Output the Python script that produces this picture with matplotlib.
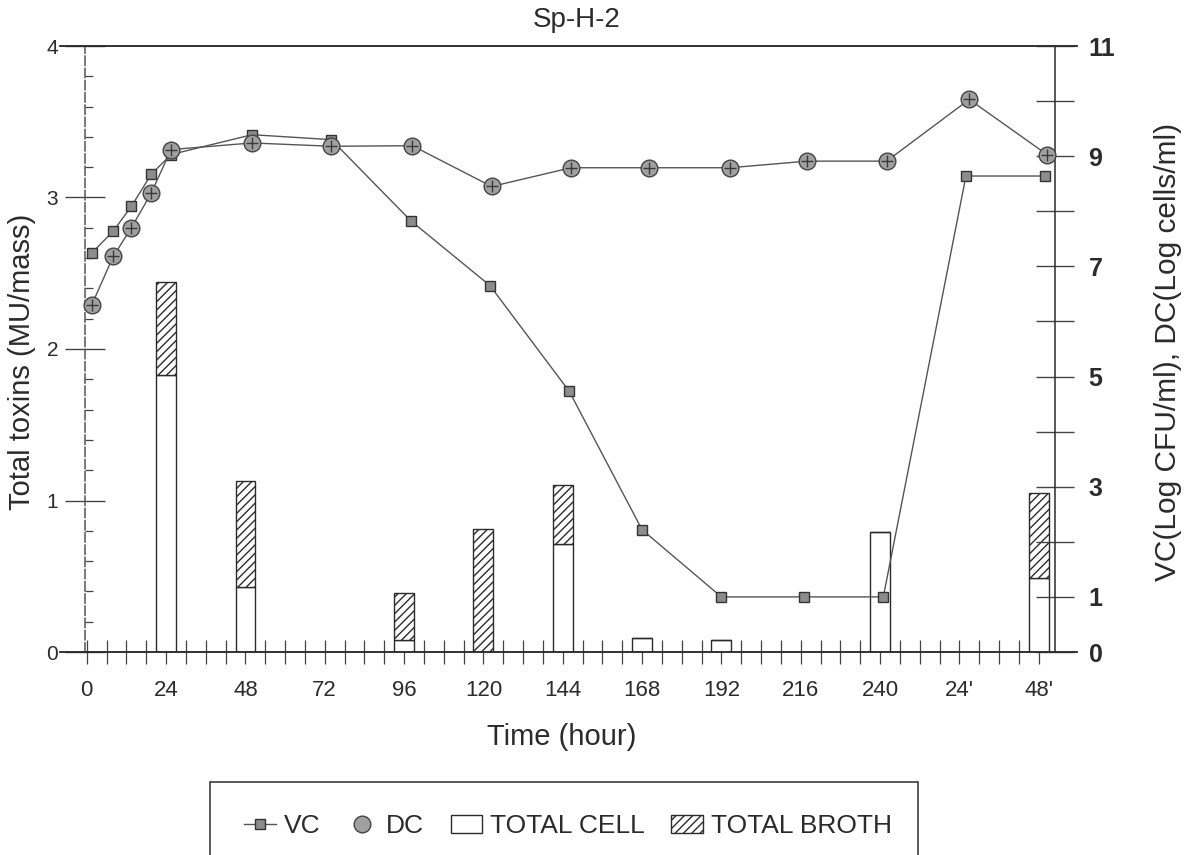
import matplotlib.pyplot as plt
from matplotlib.lines import Line2D
from matplotlib.patches import Patch, Rectangle
from matplotlib.ticker import FixedLocator, MultipleLocator

plt.rcParams['font.family'] = ['Liberation Sans', 'DejaVu Sans']
plt.rcParams['hatch.linewidth'] = 1.0

# data
bar_hours = [24, 48, 96, 120, 144, 168, 192, 240, 288]
total_cell = [1.83, 0.43, 0.08, 0.0, 0.71, 0.09, 0.08, 0.79, 0.49]
total_broth = [0.61, 0.70, 0.31, 0.81, 0.39, 0.0, 0.0, 0.0, 0.56]

vc_hours = [1.5, 8, 13.5, 19.5, 25.5, 50, 74, 98, 122, 146, 168, 192, 217, 241, 266, 290]
vc = [7.24, 7.64, 8.09, 8.67, 9.03, 9.39, 9.30, 7.83, 6.65, 4.73, 2.22, 1.0, 1.0, 1.0, 8.64, 8.64]

dc_hours = [1.5, 8, 13.5, 19.5, 25.5, 50, 74, 98.5, 122.5, 146.5, 170, 194.5, 218, 242, 267, 290.5]
dc = [6.30, 7.18, 7.70, 8.33, 9.12, 9.24, 9.18, 9.19, 8.45, 8.79, 8.79, 8.79, 8.91, 8.91, 10.03, 9.03]

x_ticks = [0, 24, 48, 72, 96, 120, 144, 168, 192, 216, 240, 264, 288]
x_labels = ['0', '24', '48', '72', '96', '120', '144', '168', '192', '216', '240', "24'", "48'"]

ink = '#2b2b2b'
W, H = 1187, 855
fig = plt.figure(figsize=(W / 100, H / 100), dpi=100)
ax = fig.add_axes([60 / W, 1 - 652 / H, 1017 / W, 606 / H])
ax2 = ax.twinx()

# stacked bars: cell at the bottom, broth hatched on top
ax.bar(bar_hours, total_cell, width=6, color='white', edgecolor=ink, linewidth=1.0, zorder=2)
ax.bar(bar_hours, total_broth, width=6, bottom=total_cell, color='white', edgecolor=ink,
       linewidth=1.0, hatch='////', zorder=2)

# VC and DC curves on the right axis
ax2.plot(vc_hours, vc, color='#555555', lw=1.0, marker='s', ms=7, mfc='#8c8c8c', mec='#333333', zorder=3)
ax2.plot(dc_hours, dc, color='#555555', lw=1.0, marker='o', ms=12, mfc='#a0a0a0', mec='#444444', zorder=3)
ax2.plot(dc_hours, dc, ls='none', marker='+', ms=9, mec='#3a3a3a', mew=1.0, zorder=4)

ax.set_xlim(-8.1, 299.6)
ax.set_ylim(0, 4)
ax2.set_ylim(0, 11)

for a in (ax, ax2):
    for s in a.spines.values():
        s.set_color(ink)
        s.set_linewidth(1.1)
ax.spines['right'].set_visible(False)
ax.spines['left'].set_position(('data', -0.5))
ax.spines['left'].set_linestyle((0, (6, 2)))
ax.spines['left'].set_color('#555555')
ax2.spines['left'].set_visible(False)
ax2.spines['right'].set_position(('data', 293))

# x ticks
ax.xaxis.set_major_locator(FixedLocator(x_ticks))
ax.set_xticklabels(x_labels)
ax.xaxis.set_minor_locator(FixedLocator([h for h in range(0, 289, 6) if h % 24]))
ax.tick_params(axis='x', which='both', direction='inout', length=17, width=0.9,
               color='#444444', labelsize=16, labelcolor=ink, pad=12)

# left axis ticks
ax.set_yticks([0, 1, 2, 3, 4])
ax.yaxis.set_minor_locator(MultipleLocator(0.2))
ax.tick_params(axis='y', which='major', direction='inout', length=29, width=1.0,
               color='#444444', labelsize=15, labelcolor=ink, pad=5)
ax.tick_params(axis='y', which='minor', direction='in', length=6, width=0.9, color='#444444')

# right axis ticks
ax2.set_yticks([0, 1, 3, 5, 7, 9, 11])
ax2.yaxis.set_minor_locator(FixedLocator([2, 4, 6, 8, 10]))
ax2.tick_params(axis='y', which='both', direction='inout', length=28, width=1.0, color='#444444')
ax2.tick_params(axis='y', which='major', labelsize=18, labelcolor=ink, pad=10)
for t in ax2.get_yticklabels():
    t.set_fontweight('bold')

ax.set_xlabel('Time (hour)', fontsize=21, color=ink, va='center')
ax.xaxis.set_label_coords(0.4933, -0.140)
ax.set_ylabel('Total toxins (MU/mass)', fontsize=21, color=ink, va='center')
ax.yaxis.set_label_coords(-0.0374, 0.4785)
ax2.set_ylabel('VC(Log CFU/ml), DC(Log cells/ml)', fontsize=21.5, color=ink, va='center', rotation=90)
ax2.yaxis.set_label_coords(1.0895, 0.495)

ax.text(0.508, 1.043, 'Sp-H-2', transform=ax.transAxes, ha='center', va='center',
        fontsize=20, color=ink)

# legend in an open-bottomed box below the plot
frame = Rectangle((210 / W, -0.06), 708 / W, 0.06 + 1 - 782 / H, transform=fig.transFigure,
                  fill=False, edgecolor=ink, linewidth=1.1, clip_on=False)
fig.patches.append(frame)
handles = [
    Line2D([], [], color='#555555', lw=1.0, marker='s', ms=7, mfc='#8c8c8c', mec='#333333'),
    Line2D([], [], ls='none', marker='o', ms=12, mfc='#a0a0a0', mec='#444444'),
    Patch(facecolor='white', edgecolor=ink, linewidth=1.0),
    Patch(facecolor='white', edgecolor=ink, linewidth=1.0, hatch='////'),
]
fig.legend(handles, ['VC', 'DC', 'TOTAL CELL', 'TOTAL BROTH'], loc='center',
           bbox_to_anchor=(568 / W, 1 - 826 / H), ncol=4, frameon=False, fontsize=19,
           handlelength=1.2, handletextpad=0.3, columnspacing=1.0, labelcolor=ink)

fig.savefig('out.png', dpi=100, facecolor='white')
